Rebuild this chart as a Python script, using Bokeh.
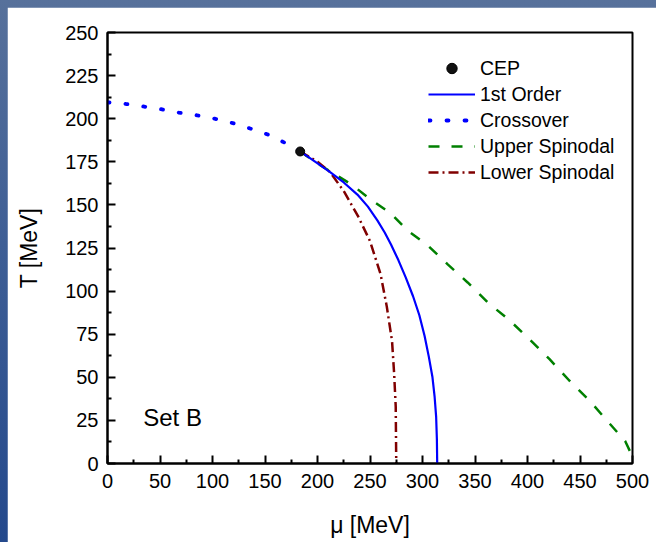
from bokeh.plotting import figure
from bokeh.models import Range1d, FixedTicker, Legend, LegendItem, Label
from bokeh.layouts import column
from bokeh.embed import file_html
from bokeh.resources import INLINE

# Phase diagram, parameter set B: T vs. mu (MeV)
cep_mu = [183.5]
cep_T = [181.0]

crossover_mu = [0, 18, 35, 51, 68, 85, 102, 119, 135, 152, 169, 183.5]
crossover_T = [209.5, 208.5, 207, 205.5, 203.5, 202, 200, 197.5, 194.5, 191, 186, 181]

first_order_mu = [183.5, 198, 212, 225, 238, 248, 257, 264, 270, 277, 284, 291, 297,
                  302, 306, 309.5, 311.5, 313, 313.7, 314]
first_order_T = [181, 175, 169, 163, 156, 149, 141, 134, 127, 118, 108, 97, 86,
                 74, 62, 50, 39, 27, 14, 0]

upper_mu = [183.5, 200, 216, 232, 251, 270, 286, 305, 324, 343, 362, 383, 402, 421, 440, 459, 477, 493, 500]
upper_T = [181, 174, 168, 162, 153, 145, 135, 126.5, 115.5, 105, 93.5, 83, 72, 60.5, 48, 36.5, 24, 13, 4]

lower_mu = [183.5, 200, 212, 225, 239, 250, 260, 266, 271, 273, 274.5, 275]
lower_T = [181, 175, 169, 158, 143, 129, 110, 91, 71, 52, 33, 0]

x_ticks = [0, 50, 100, 150, 200, 250, 300, 350, 400, 450, 500]
x_minor = [25 + 50 * i for i in range(10)]
y_ticks = [0, 25, 50, 75, 100, 125, 150, 175, 200, 225, 250]
y_minor = [12.5 + 25 * i for i in range(10)]

FONT = "Liberation Sans"

p = figure(width=649, height=535, output_backend="svg", toolbar_location=None,
           x_range=Range1d(0, 500), y_range=Range1d(0, 250),
           min_border_left=100, min_border_right=24, min_border_top=25, min_border_bottom=79,
           background_fill_color="white", border_fill_color="white")
p.grid.visible = False
p.outline_line_color = "black"
p.outline_line_width = 2

for ax, major, minor in ((p.xaxis[0], x_ticks, x_minor), (p.yaxis[0], y_ticks, y_minor)):
    ax.ticker = FixedTicker(ticks=major, minor_ticks=minor)
    ax.axis_line_width = 2
    ax.major_tick_line_width = 2
    ax.minor_tick_line_width = 2
    ax.major_tick_in = 8
    ax.major_tick_out = 0
    ax.minor_tick_in = 4
    ax.minor_tick_out = 0
    ax.major_label_text_font = FONT
    ax.major_label_text_font_size = "20px"
    ax.major_label_text_color = "black"
    ax.axis_label_text_font = FONT
    ax.axis_label_text_font_size = "23px"
    ax.axis_label_text_font_style = "normal"
    ax.axis_label_text_color = "black"

p.xaxis.axis_label = "μ [MeV]"
p.yaxis.axis_label = "T [MeV]"
p.xaxis.major_label_standoff = 10
p.yaxis.major_label_standoff = 9
p.xaxis.axis_label_standoff = 21
p.yaxis.axis_label_standoff = 20

r_cross = p.line(crossover_mu, crossover_T, line_color="#0000ff", line_width=3.8,
                 line_dash="2 16", line_cap="round")
r_upper = p.line(upper_mu, upper_T, line_color="#008000", line_width=2.5, line_dash="11 12")
r_lower = p.line(lower_mu, lower_T, line_color="#800000", line_width=2.5, line_dash="10 4 2 4")
r_first = p.line(first_order_mu, first_order_T, line_color="#0000ff", line_width=2.2,
                 line_join="round")
r_cep = p.scatter(cep_mu, cep_T, size=9, marker="circle", fill_color="#111111",
                  line_color="black", line_width=1)

legend = Legend(items=[
    LegendItem(label="CEP", renderers=[r_cep]),
    LegendItem(label="1st Order", renderers=[r_first]),
    LegendItem(label="Crossover", renderers=[r_cross]),
    LegendItem(label="Upper Spinodal", renderers=[r_upper]),
    LegendItem(label="Lower Spinodal", renderers=[r_lower]),
], location=(321, 278))
legend.background_fill_alpha = 0
legend.border_line_alpha = 0
legend.padding = 0
legend.margin = 0
legend.spacing = 0
legend.glyph_width = 47
legend.glyph_height = 26
legend.label_height = 26
legend.label_standoff = 5
legend.label_text_font = FONT
legend.label_text_font_size = "19.5px"
legend.label_text_color = "black"
p.add_layout(legend)

p.add_layout(Label(x=34, y=26.5, text="Set B", text_font=FONT, text_font_size="24px",
                   text_color="black", text_baseline="alphabetic"))

page = column(p, styles={
    "background": "linear-gradient(to bottom, #57719b 0%, #3e5e95 45%, #24498c 100%)",
    "padding-left": "7px", "padding-top": "7px",
})

open("out.html", "w").write(file_html(page, INLINE))
